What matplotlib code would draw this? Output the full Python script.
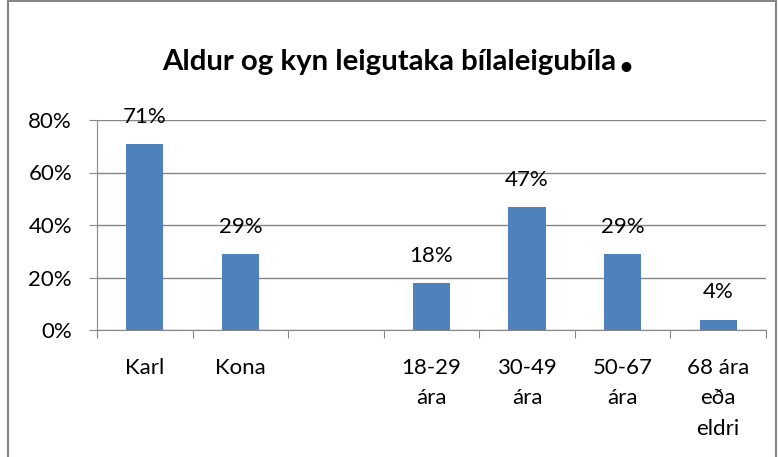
import matplotlib.pyplot as plt
import numpy as np
from matplotlib.patches import Rectangle

# data
categories = ["Karl", "Kona", "", "18-29\nára", "30-49\nára", "50-67\nára", "68 ára\neða\neldri"]
values = [71, 29, None, 18, 47, 29, 4]
y_ticks = [0, 20, 40, 60, 80]

BAR = '#4F81BD'
GRID = '#868686'
plt.rcParams['font.family'] = ['Lato', 'DejaVu Sans']

fig = plt.figure(figsize=(7.79, 4.57), dpi=100)
ax = fig.add_axes([97/779, 1 - 330/457, (766 - 97)/779, 210/457])

x = np.arange(len(categories))
for xi, v in zip(x, values):
    if v is None:
        continue
    ax.bar(xi, v, width=0.39, color=BAR, zorder=3)
    ax.text(xi, v + 6.5, f"{v}%", ha='center', va='bottom', fontsize=16, zorder=4)

ax.set_xlim(-0.5, len(categories) - 0.5)
ax.set_ylim(0, 80)
ax.set_yticks(y_ticks)
ax.set_yticklabels([f"{t}%" for t in y_ticks], fontsize=16)
ax.yaxis.grid(True, color=GRID, linewidth=1, zorder=0)

# category labels between boundary ticks
ax.set_xticks(np.arange(len(categories) + 1) - 0.5)
ax.set_xticklabels([])
ax.set_xticks(x, minor=True)
ax.set_xticklabels(categories, minor=True, fontsize=16, linespacing=1.65)
ax.tick_params(axis='x', which='minor', length=0, pad=20)
ax.tick_params(axis='x', which='major', length=6, color=GRID, direction='out')
ax.tick_params(axis='y', length=6, color=GRID, pad=12)

for side in ['top', 'right']:
    ax.spines[side].set_visible(False)
for side in ['left', 'bottom']:
    ax.spines[side].set_color(GRID)

fig.text(162/779, 1 - 62/457, "Aldur og kyn leigutaka bílaleigubíla", ha='left', va='center',
         fontsize=21.2, fontweight='bold')
fig.text(619/779, 1 - 68/457, "•", ha='left', va='center', fontsize=16, fontweight='bold')

# chart border
fig.patches.append(Rectangle((8/779, -0.1), (776 - 8)/779, 1.1 - 1/457, transform=fig.transFigure,
                             fill=False, edgecolor=GRID, linewidth=1.5))

fig.savefig('out.png', dpi=100)
